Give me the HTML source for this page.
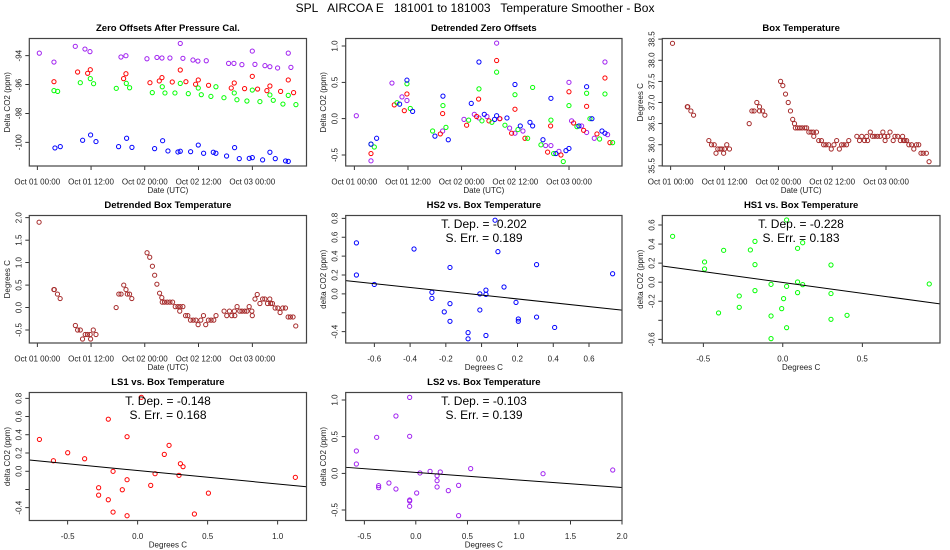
<!DOCTYPE html>
<html><head><meta charset="utf-8"><style>
html,body{margin:0;padding:0;background:#fff;}
svg{display:block;font-family:"Liberation Sans",sans-serif;}
</style></head><body>
<svg id="chart" width="950" height="550" viewBox="0 0 950 550">
<text x="475" y="12" text-anchor="middle" font-size="12" xml:space="preserve">SPL   AIRCOA E   181001 to 181003   Temperature Smoother - Box</text>
</svg>
<script>
// ---- data (hours since Oct 01 00:00 UTC) ----
const timeTickHours = [0, 12, 24, 36, 48];
const timeTickLabels = ['Oct 01 00:00', 'Oct 01 12:00', 'Oct 02 00:00', 'Oct 02 12:00', 'Oct 03 00:00'];

const zoPurpleH = [0.45,3.72,8.48,10.64,11.76,18.68,19.79,24.48,26.71,27.83,29.61,31.92,32.51,34.75,35.86,37.72,42.71,43.9,45.68,48.0,48.59,50.82,51.93,53.65,56.03,56.62];
const zoPurpleV = [-93.82,-94.44,-93.35,-93.54,-93.72,-94.09,-94.0,-94.21,-94.12,-94.16,-94.16,-93.15,-94.18,-94.3,-94.37,-94.35,-94.53,-94.53,-94.62,-93.68,-94.6,-94.69,-94.76,-94.85,-93.82,-94.81];
const zoRedH = [3.72,9.0,11.24,11.83,19.27,19.79,25.15,27.23,27.83,30.13,31.92,33.18,35.34,35.94,38.24,43.3,43.97,46.28,48.0,49.18,51.26,51.93,54.32,56.03,57.22];
const zoRedV = [-95.8,-95.13,-95.22,-94.97,-95.59,-95.25,-95.87,-95.75,-95.52,-95.82,-94.99,-95.8,-95.98,-95.68,-96.05,-96.24,-95.89,-96.28,-95.43,-96.31,-96.42,-96.1,-96.47,-95.68,-96.56];
const zoGreenH = [3.72,4.54,9.6,11.83,12.57,17.63,19.87,20.61,25.67,27.9,28.5,30.73,31.92,33.71,35.94,36.61,38.76,39.88,41.67,43.97,44.57,46.8,48.0,49.7,51.93,52.68,54.84,56.03,57.74];
const zoGreenV = [-96.42,-96.47,-95.87,-95.59,-95.94,-96.26,-95.92,-96.22,-96.56,-96.15,-96.58,-96.58,-95.92,-96.63,-96.24,-96.7,-96.82,-96.15,-96.91,-96.58,-97.05,-97.14,-96.38,-97.18,-96.72,-97.09,-97.35,-96.75,-97.39];
const zoBlueH = [3.94,5.13,10.12,11.9,13.1,18.15,19.94,21.13,26.19,27.98,29.17,31.4,31.92,34.23,35.94,37.13,39.29,39.88,42.26,44.05,45.09,47.32,48.0,50.3,51.93,53.13,55.43,56.03];
const zoBlueV = [-100.39,-100.3,-99.86,-99.49,-99.95,-100.3,-99.72,-100.35,-100.44,-99.89,-100.6,-100.67,-100.62,-100.65,-100.19,-100.76,-100.69,-100.76,-100.95,-100.37,-101.13,-101.11,-101.06,-101.22,-100.69,-101.13,-101.29,-101.32];

const dzPurpleH = [0.45,3.73,8.42,10.66,11.77,19.75,24.52,26.83,27.87,29.66,31.82,32.49,34.72,35.92,37.7,42.77,43.96,45.75,47.99,48.58,50.82,51.94,53.65,56.04,56.63];
const dzPurpleV = [0.04,-0.58,0.49,0.3,0.25,-0.17,-0.01,0.06,0.01,0.03,1.04,0.0,-0.13,-0.2,-0.17,-0.37,-0.37,-0.45,0.5,-0.03,-0.1,-0.19,-0.27,0.78,-0.22];
const dzRedH = [3.73,8.94,11.18,11.77,19.23,19.75,25.11,27.35,27.79,30.1,31.82,32.56,35.17,35.92,38.15,43.22,43.89,46.2,47.99,49.03,51.27,51.94,54.25,56.04,57.15];
const dzRedV = [-0.48,0.19,0.11,0.34,-0.21,0.07,-0.09,0.03,0.27,-0.03,0.8,0.0,-0.2,0.13,-0.27,-0.46,-0.1,-0.5,0.37,-0.06,-0.16,0.17,-0.21,0.56,-0.33];
const dzGreenH = [3.73,4.47,9.54,11.77,12.52,17.51,19.82,20.49,25.56,27.87,28.54,30.77,31.82,33.68,35.92,36.59,38.75,39.87,41.73,43.96,44.56,46.72,47.99,49.78,51.94,52.68,54.84,56.04,57.75];
const dzGreenV = [-0.35,-0.39,0.22,0.48,0.14,-0.17,0.18,-0.12,-0.02,0.41,-0.03,-0.05,0.64,-0.09,0.33,-0.15,-0.27,0.43,-0.36,-0.02,-0.48,-0.59,0.18,-0.11,0.35,0.0,-0.28,0.34,-0.33];
const dzBlueH = [3.73,4.99,10.13,11.77,13.04,18.03,19.82,21.01,26.15,27.87,29.06,31.37,31.82,34.13,35.92,37.11,39.27,39.87,42.18,43.96,45.08,47.32,47.99,50.22,51.94,53.13,55.37,56.04];
const dzBlueV = [-0.35,-0.27,0.2,0.53,0.1,-0.24,0.31,-0.29,0.21,0.78,0.06,-0.01,0.04,0.01,0.47,-0.1,-0.05,-0.1,-0.29,0.28,-0.48,-0.44,-0.41,-0.1,0.44,0.0,-0.17,-0.2];

const btH = [0.4,3.7,3.8,4.5,5.1,8.5,9.1,9.7,10.1,10.5,11.0,11.4,11.8,12.0,12.5,13.1,17.5,18.1,18.6,19.2,19.8,19.8,20.5,21.0,24.5,25.0,25.6,26.2,26.7,27.2,27.6,27.8,28.3,28.8,29.3,29.9,30.3,30.8,31.3,31.8,31.9,32.5,33.0,33.6,34.1,34.6,35.2,35.8,36.4,37.0,37.6,38.1,38.6,39.2,39.7,41.5,42.1,42.6,43.2,43.7,43.9,44.5,45.0,45.5,46.1,46.7,47.3,47.7,47.8,48.4,48.9,49.6,50.0,50.6,51.2,51.7,51.9,52.2,52.6,53.1,53.7,54.2,54.8,55.3,55.8,56.3,57.0,57.6];
const btV = [38.4,36.9,36.9,36.8,36.7,36.1,36.0,36.0,35.8,35.9,35.9,35.9,35.8,35.9,36.0,35.9,36.5,36.8,36.8,37.0,36.9,36.8,36.8,36.7,37.5,37.4,37.2,37.0,36.8,36.6,36.5,36.4,36.4,36.4,36.4,36.4,36.4,36.3,36.3,36.3,36.2,36.3,36.1,36.1,36.0,36.0,36.0,35.9,36.0,36.1,35.9,36.0,36.0,36.0,36.1,36.2,36.1,36.2,36.1,36.2,36.1,36.3,36.2,36.2,36.2,36.2,36.3,36.2,36.1,36.2,36.3,36.1,36.2,36.2,36.1,36.2,36.1,36.1,36.1,36.0,36.0,35.9,36.0,36.0,35.8,35.8,35.8,35.6];

const dbH = [0.4,3.7,3.8,4.5,5.1,8.5,9.0,9.6,10.1,10.7,11.2,11.8,11.9,12.5,13.1,17.6,18.2,18.7,19.3,19.8,20.1,20.6,21.1,24.5,25.1,25.7,26.2,26.7,27.3,27.8,27.9,28.4,29.0,29.6,30.2,30.8,31.4,31.8,31.9,32.5,33.1,33.6,34.2,34.8,35.4,35.9,36.5,37.1,37.6,38.2,38.8,39.4,39.9,41.7,42.3,42.9,43.4,44.0,44.1,44.6,45.2,45.7,46.3,46.8,47.3,47.9,48.0,48.6,49.1,49.7,50.3,50.8,51.4,51.9,52.1,52.5,53.1,53.7,54.2,54.8,55.4,56.0,56.5,57.1,57.7];
const dbV = [1.9,0.4,0.4,0.3,0.2,-0.4,-0.5,-0.5,-0.7,-0.6,-0.6,-0.6,-0.7,-0.5,-0.6,0.0,0.3,0.3,0.5,0.4,0.3,0.3,0.2,1.22,1.12,0.92,0.72,0.52,0.32,0.22,0.12,0.12,0.12,0.12,0.12,0.02,0.02,-0.08,0.02,0.02,-0.18,-0.18,-0.28,-0.28,-0.28,-0.38,-0.28,-0.18,-0.38,-0.28,-0.28,-0.28,-0.18,-0.08,-0.18,-0.08,-0.18,-0.08,-0.18,0.02,-0.08,-0.08,-0.08,-0.08,0.02,-0.08,-0.18,0.19,0.29,0.09,0.19,0.19,0.09,0.19,0.09,0.09,-0.01,-0.01,-0.11,-0.01,-0.01,-0.21,-0.21,-0.21,-0.41];

const hs2X = [-0.70,-0.70,-0.60,-0.378,-0.278,-0.278,-0.177,-0.177,-0.209,-0.177,-0.076,-0.076,-0.01,-0.01,0.024,0.024,0.024,0.075,0.091,0.125,0.192,0.205,0.205,0.307,0.307,0.408,0.732];
const hs2Y = [0.54,0.20,0.10,0.475,0.017,-0.047,0.28,-0.103,-0.19,-0.29,-0.41,-0.475,0.0,-0.17,0.04,-0.005,-0.44,0.78,0.447,0.073,-0.09,-0.265,-0.29,0.31,-0.245,-0.355,0.213];
const hs2Fit = [-0.013, -0.202, 0.189];

const hs1X = [-0.693,-0.492,-0.492,-0.372,-0.404,-0.274,-0.274,-0.204,-0.175,-0.175,-0.175,-0.074,-0.074,-0.074,-0.007,0.005,0.024,0.024,0.024,0.093,0.093,0.093,0.125,0.125,0.303,0.303,0.303,0.404,0.921];
const hs1Y = [0.481,0.212,0.138,0.334,-0.323,-0.145,-0.264,0.338,0.428,0.184,-0.089,-0.023,-0.355,-0.593,-0.278,-0.173,0.653,-0.044,-0.478,0.355,0.002,-0.11,0.414,-0.026,0.18,-0.12,-0.39,-0.348,-0.019];
const hs1Fit = [-0.003, -0.228, 0.183];

const ls1X = [-0.702,-0.602,-0.5,-0.379,-0.279,-0.279,-0.21,-0.21,-0.176,-0.176,-0.11,-0.076,-0.076,-0.076,0.026,0.093,0.124,0.19,0.224,0.295,0.305,0.324,0.405,0.505,1.126];
const ls1Y = [0.349,0.115,0.203,0.137,-0.181,-0.262,0.571,-0.313,-0.001,-0.448,-0.203,0.379,-0.093,-0.488,0.811,-0.155,-0.027,0.185,0.284,-0.045,0.083,0.05,-0.469,-0.24,-0.067];
const ls1Fit = [0.008, -0.148, 0.168];

const ls2X = [-0.577,-0.577,-0.38,-0.361,-0.361,-0.261,-0.193,-0.193,-0.06,-0.06,-0.06,-0.06,-0.06,0.008,0.04,0.138,0.206,0.206,0.206,0.237,0.315,0.415,0.415,0.532,1.234,1.91];
const ls2Y = [0.305,0.127,0.491,-0.168,-0.195,-0.132,0.782,-0.214,1.036,0.505,-0.364,-0.377,-0.45,-0.268,0.005,0.027,-0.032,-0.1,-0.186,0.018,-0.236,-0.164,-0.577,0.064,-0.005,0.045];
const ls2Fit = [0.012, -0.103, 0.139];

// ---- drawing ----
const NS = 'http://www.w3.org/2000/svg';
const svg = document.getElementById('chart');
function lin(d0, d1, r0, r1) { return v => r0 + (v - d0) * (r1 - r0) / (d1 - d0); }
function mk(tag, parent) { const e = document.createElementNS(NS, tag); parent.appendChild(e); return e; }

const COL = [[29.3, 306.5], [345.7, 622], [662.3, 940]];
const ROW = [[38.5, 166], [215.5, 343], [392.5, 520.5]];

function panel(cfg) {
  const g = mk('g', svg);
  
  
  const [L, R] = COL[cfg.col], [T, B] = ROW[cfg.row];
  const t = mk('text', g);
  
  
  t.setAttribute('x', (L + R) / 2); t.setAttribute('y', T - 7.5);
  t.setAttribute('text-anchor', 'middle'); t.setAttribute('font-size', '9.5'); t.setAttribute('font-weight', 'bold');
  t.textContent = cfg.title;
  // x ticks
  cfg.xticks.forEach((v, i) => {
    const px = cfg.xs(v);
    const tk = mk('line', g);
    
    
    tk.setAttribute('x1', px); tk.setAttribute('x2', px); tk.setAttribute('y1', B); tk.setAttribute('y2', B + 4);
    tk.setAttribute('stroke', '#000'); tk.setAttribute('stroke-width', '0.8');
    if (cfg.xlabels[i] !== '') {
      const lb = mk('text', g);
      
      
      lb.setAttribute('x', px); lb.setAttribute('y', B + 18.5);
      lb.setAttribute('text-anchor', 'middle'); lb.setAttribute('font-size', '8'); lb.setAttribute('fill', '#222');
      lb.textContent = cfg.xlabels[i];
    }
  });
  const xa = mk('line', g);
  
  
  xa.setAttribute('x1', cfg.xs(cfg.xticks[0])); xa.setAttribute('x2', cfg.xs(cfg.xticks[cfg.xticks.length - 1]));
  xa.setAttribute('y1', B); xa.setAttribute('y2', B); xa.setAttribute('stroke', '#000'); xa.setAttribute('stroke-width', '0.8');
  cfg.yticks.forEach((v, i) => {
    const py = cfg.ys(v);
    const tk = mk('line', g);
    
    
    tk.setAttribute('x1', L); tk.setAttribute('x2', L - 4); tk.setAttribute('y1', py); tk.setAttribute('y2', py);
    tk.setAttribute('stroke', '#000'); tk.setAttribute('stroke-width', '0.8');
    if (cfg.ylabels[i] !== '') {
      const lb = mk('text', g);
      
      
      lb.setAttribute('transform', 'translate(' + (L - 8) + ',' + py + ') rotate(-90)');
      lb.setAttribute('text-anchor', 'middle'); lb.setAttribute('font-size', '8'); lb.setAttribute('fill', '#222');
      lb.textContent = cfg.ylabels[i];
    }
  });
  const xl = mk('text', g);
  
  
  xl.setAttribute('x', (L + R) / 2); xl.setAttribute('y', B + 27);
  xl.setAttribute('text-anchor', 'middle'); xl.setAttribute('font-size', '8'); xl.setAttribute('fill', '#222');
  xl.textContent = cfg.xlab;
  const yl = mk('text', g);
  
  
  yl.setAttribute('transform', 'translate(' + (L - 19.5) + ',' + ((T + B) / 2) + ') rotate(-90)');
  yl.setAttribute('text-anchor', 'middle'); yl.setAttribute('font-size', '8'); yl.setAttribute('fill', '#222');
  yl.textContent = cfg.ylab;
  // clip
  const cid = 'clip-' + cfg.name;
  const cp = mk('clipPath', g); cp.setAttribute('id', cid);
  const cr = mk('rect', cp);
  cr.setAttribute('x', L); cr.setAttribute('y', T); cr.setAttribute('width', R - L); cr.setAttribute('height', B - T);
  const pg = mk('g', g);
  
  
  pg.setAttribute('clip-path', 'url(#' + cid + ')');
  cfg.series.forEach(s => {
    s.xs.forEach((xv, i) => {
      const c = mk('circle', pg);
      
      
      c.setAttribute('cx', cfg.xs(xv)); c.setAttribute('cy', cfg.ys(s.ys[i])); c.setAttribute('r', '2.1');
      c.setAttribute('fill', 'none'); c.setAttribute('stroke', s.color); c.setAttribute('stroke-width', '1');
    });
  });
  if (cfg.fit) {
    const inv = v => cfg.xd0 + (v - L) * (cfg.xd1 - cfg.xd0) / (R - L);
    const a = cfg.fit[0], b = cfg.fit[1];
    const xa0 = inv(L), xa1 = inv(R);
    const fl = mk('line', pg);
    
    
    fl.setAttribute('x1', L); fl.setAttribute('x2', R);
    fl.setAttribute('y1', cfg.ys(a + b * xa0)); fl.setAttribute('y2', cfg.ys(a + b * xa1));
    fl.setAttribute('stroke', '#000'); fl.setAttribute('stroke-width', '1');
    const t1 = mk('text', g);
    
    
    t1.setAttribute('x', cfg.annX); t1.setAttribute('y', T + 12.5);
    t1.setAttribute('text-anchor', 'middle'); t1.setAttribute('font-size', '12'); t1.setAttribute('xml:space', 'preserve');
    t1.textContent = 'T. Dep. =  ' + b.toFixed(3);
    const t2 = mk('text', g);
    
    
    t2.setAttribute('x', cfg.annX); t2.setAttribute('y', T + 26.5);
    t2.setAttribute('text-anchor', 'middle'); t2.setAttribute('font-size', '12'); t2.setAttribute('xml:space', 'preserve');
    t2.textContent = 'S. Err. =  ' + cfg.fit[2].toFixed(3);
  }
  const bx = mk('rect', g);
  
  
  bx.setAttribute('x', L); bx.setAttribute('y', T); bx.setAttribute('width', R - L); bx.setAttribute('height', B - T);
  bx.setAttribute('fill', 'none'); bx.setAttribute('stroke', '#444'); bx.setAttribute('stroke-width', '1.2');
}

const PUR = '#a020f0', RED = '#ff0000', GRN = '#00ff00', BLU = '#0000ff', BRN = '#a52a2a';

panel({name: 'zero-offsets-panel', col: 0, row: 0, title: 'Zero Offsets After Pressure Cal.',
  xs: lin(0, 48, 37.3, 252.3), ys: lin(-94, -100, 55.7, 142.3),
  xticks: timeTickHours, xlabels: timeTickLabels, yticks: [-94, -96, -98, -100], ylabels: ['-94', '-96', '-98', '-100'],
  xlab: 'Date (UTC)', ylab: 'Delta CO2 (ppm)',
  series: [{name: 'ls2-point', xs: zoPurpleH, ys: zoPurpleV, color: PUR}, {name: 'ls1-point', xs: zoRedH, ys: zoRedV, color: RED},
           {name: 'hs1-point', xs: zoGreenH, ys: zoGreenV, color: GRN}, {name: 'hs2-point', xs: zoBlueH, ys: zoBlueV, color: BLU}]});

panel({name: 'detrended-zero-offsets-panel', col: 1, row: 0, title: 'Detrended Zero Offsets',
  xs: lin(0, 48, 354.3, 569), ys: lin(1, -0.5, 46, 155),
  xticks: timeTickHours, xlabels: timeTickLabels, yticks: [-0.5, 0, 0.5, 1], ylabels: ['-0.5', '0.0', '0.5', '1.0'],
  xlab: 'Date (UTC)', ylab: 'Delta CO2 (ppm)',
  series: [{name: 'ls2-point', xs: dzPurpleH, ys: dzPurpleV, color: PUR}, {name: 'ls1-point', xs: dzRedH, ys: dzRedV, color: RED},
           {name: 'hs1-point', xs: dzGreenH, ys: dzGreenV, color: GRN}, {name: 'hs2-point', xs: dzBlueH, ys: dzBlueV, color: BLU}]});

panel({name: 'box-temperature-panel', col: 2, row: 0, title: 'Box Temperature',
  xs: lin(0, 48, 670.7, 886), ys: lin(38.5, 35.5, 39.1, 165.9),
  xticks: timeTickHours, xlabels: timeTickLabels, yticks: [35.5, 36, 36.5, 37, 37.5, 38, 38.5], ylabels: ['35.5', '36.0', '36.5', '37.0', '37.5', '38.0', '38.5'],
  xlab: 'Date (UTC)', ylab: 'Degrees C',
  series: [{name: 'box-temp-point', xs: btH, ys: btV, color: BRN}]});

panel({name: 'detrended-box-temperature-panel', col: 0, row: 1, title: 'Detrended Box Temperature',
  xs: lin(0, 48, 37.3, 252.3), ys: lin(2, -0.5, 217.7, 330),
  xticks: timeTickHours, xlabels: timeTickLabels, yticks: [-0.5, 0, 0.5, 1, 1.5, 2], ylabels: ['-0.5', '0.0', '0.5', '1.0', '1.5', '2.0'],
  xlab: 'Date (UTC)', ylab: 'Degrees C',
  series: [{name: 'detrended-temp-point', xs: dbH, ys: dbV, color: BRN}]});

panel({name: 'hs2-vs-temp-panel', col: 1, row: 1, title: 'HS2 vs. Box Temperature',
  xs: lin(-0.6, 0.6, 374.3, 589), ys: lin(0.8, -0.4, 218.3, 331.7), xd0: -0.6 + (345.7 - 374.3) / 178.92, xd1: -0.6 + (622 - 374.3) / 178.92,
  xticks: [-0.6, -0.4, -0.2, 0, 0.2, 0.4, 0.6], xlabels: ['-0.6', '-0.4', '-0.2', '0.0', '0.2', '0.4', '0.6'],
  yticks: [-0.4, -0.2, 0, 0.2, 0.4, 0.6, 0.8], ylabels: ['-0.4', '', '0.0', '0.2', '0.4', '0.6', '0.8'],
  xlab: 'Degrees C', ylab: 'delta CO2 (ppm)', fit: hs2Fit, annX: 484,
  series: [{name: 'hs2-point', xs: hs2X, ys: hs2Y, color: BLU}]});

panel({name: 'hs1-vs-temp-panel', col: 2, row: 1, title: 'HS1 vs. Box Temperature',
  xs: lin(-0.5, 0.5, 703.3, 862.3), ys: lin(0.6, -0.6, 225, 339.3), xd0: -0.5 + (662.3 - 703.3) / 159, xd1: -0.5 + (940 - 703.3) / 159,
  xticks: [-0.5, 0, 0.5], xlabels: ['-0.5', '0.0', '0.5'],
  yticks: [-0.6, -0.4, -0.2, 0, 0.2, 0.4, 0.6], ylabels: ['-0.6', '', '-0.2', '0.0', '0.2', '0.4', '0.6'],
  xlab: 'Degrees C', ylab: 'delta CO2 (ppm)', fit: hs1Fit, annX: 801,
  series: [{name: 'hs1-point', xs: hs1X, ys: hs1Y, color: GRN}]});

panel({name: 'ls1-vs-temp-panel', col: 0, row: 2, title: 'LS1 vs. Box Temperature',
  xs: lin(-0.5, 0.5, 67.7, 207.7), ys: lin(0.8, -0.4, 398.3, 507.7), xd0: -0.5 + (29.3 - 67.7) / 140, xd1: -0.5 + (306.5 - 67.7) / 140,
  xticks: [-0.5, 0, 0.5, 1], xlabels: ['-0.5', '0.0', '0.5', '1.0'],
  yticks: [-0.4, -0.2, 0, 0.2, 0.4, 0.6, 0.8], ylabels: ['-0.4', '', '0.0', '0.2', '0.4', '0.6', '0.8'],
  xlab: 'Degrees C', ylab: 'delta CO2 (ppm)', fit: ls1Fit, annX: 168,
  series: [{name: 'ls1-point', xs: ls1X, ys: ls1Y, color: RED}]});

panel({name: 'ls2-vs-temp-panel', col: 1, row: 2, title: 'LS2 vs. Box Temperature',
  xs: lin(-0.5, 2.0, 364.3, 622), ys: lin(1, -0.5, 400, 510), xd0: -0.5 + (345.7 - 364.3) / 103.08, xd1: 2.0,
  xticks: [-0.5, 0, 0.5, 1, 1.5, 2], xlabels: ['-0.5', '0.0', '0.5', '1.0', '1.5', '2.0'],
  yticks: [-0.5, 0, 0.5, 1], ylabels: ['-0.5', '0.0', '0.5', '1.0'],
  xlab: 'Degrees C', ylab: 'delta CO2 (ppm)', fit: ls2Fit, annX: 484,
  series: [{name: 'ls2-point', xs: ls2X, ys: ls2Y, color: PUR}]});
</script>
</body></html>
